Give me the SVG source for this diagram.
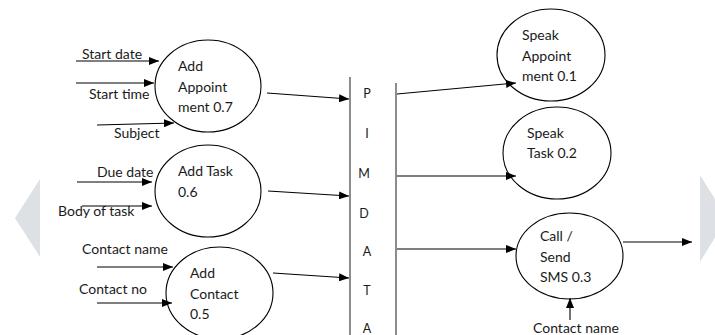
<svg xmlns="http://www.w3.org/2000/svg" width="715" height="335" viewBox="0 0 715 335">
  <defs>
    <marker id="arrow" markerUnits="userSpaceOnUse" markerWidth="10" markerHeight="8" refX="10" refY="4" orient="auto">
      <path d="M0,0 L10,4 L0,8 z" fill="#000"/>
    </marker>
    <style>
      .bubble { fill: #fff; stroke: #000; stroke-width: 1.1; }
      .flow { stroke: #000; stroke-width: 1.1; fill: none; marker-end: url(#arrow); }
      .store { stroke: #707070; stroke-width: 1.6; }
      text { font-family: Lato, "Open Sans", "Liberation Sans", sans-serif; font-size: 14px; fill: #1a1a1a; }
      .letter { font-size: 12.5px; text-anchor: middle; }
      .nav { fill: #dde1e6; }
    </style>
  </defs>

  <rect width="715" height="335" fill="#fff"/>

  <!-- page navigation chevrons -->
  <polygon class="nav" points="40,179 15,218 40,257"/>
  <polygon class="nav" points="700,175 727,218 700,262"/>

  <!-- data store: PIM DATA -->
  <g id="pim-data">
    <line class="store" x1="350" y1="77" x2="350" y2="335"/>
    <line class="store" x1="396" y1="83" x2="396" y2="335"/>
    <text class="letter" x="367" y="98">P</text>
    <text class="letter" x="367" y="138">I</text>
    <text class="letter" x="364" y="178">M</text>
    <text class="letter" x="364" y="218">D</text>
    <text class="letter" x="367" y="256">A</text>
    <text class="letter" x="367" y="295">T</text>
    <text class="letter" x="367" y="333">A</text>
  </g>

  <g id="add-appointment">
    <ellipse class="bubble" cx="208" cy="86" rx="53" ry="46"/>
    <text x="178" y="71">Add</text>
    <text x="178" y="92">Appoint</text>
    <text x="178" y="112">ment 0.7</text>
  </g>

  <g id="add-task">
    <ellipse class="bubble" cx="208" cy="191" rx="53" ry="46"/>
    <text x="178" y="176">Add Task</text>
    <text x="178" y="197">0.6</text>
  </g>

  <g id="add-contact">
    <ellipse class="bubble" cx="219.5" cy="293" rx="53.5" ry="46"/>
    <text x="190" y="278">Add</text>
    <text x="190" y="299">Contact</text>
    <text x="190" y="319">0.5</text>
  </g>

  <g id="speak-appointment">
    <ellipse class="bubble" cx="551" cy="55" rx="54" ry="46"/>
    <text x="522" y="40">Speak</text>
    <text x="522" y="61">Appoint</text>
    <text x="522" y="81">ment 0.1</text>
  </g>

  <g id="speak-task">
    <ellipse class="bubble" cx="557" cy="153" rx="54" ry="46"/>
    <text x="527" y="138">Speak</text>
    <text x="527" y="158">Task 0.2</text>
  </g>

  <g id="call-sms">
    <ellipse class="bubble" cx="569.5" cy="256" rx="53.5" ry="43"/>
    <text x="540" y="241">Call /</text>
    <text x="540" y="262">Send</text>
    <text x="540" y="282">SMS 0.3</text>
  </g>

  <!-- flow labels -->
  <g id="labels">
    <text x="82" y="59">Start date</text>
    <text x="89" y="99">Start time</text>
    <text x="114" y="138">Subject</text>
    <text x="97" y="177">Due date</text>
    <text x="58" y="216">Body of task</text>
    <text x="82" y="254">Contact name</text>
    <text x="79" y="294">Contact no</text>
    <text x="533" y="333">Contact name</text>
  </g>

  <g id="connectors">
    <line class="flow" x1="76" y1="61" x2="159" y2="61"/>
    <line class="flow" x1="76" y1="83" x2="154" y2="83"/>
    <line class="flow" x1="97" y1="125" x2="174" y2="123"/>
    <line class="flow" x1="267" y1="93" x2="349" y2="99"/>
    <line class="flow" x1="77" y1="182" x2="152" y2="182"/>
    <line class="flow" x1="82" y1="206" x2="152" y2="206"/>
    <line class="flow" x1="268" y1="191" x2="349" y2="196"/>
    <line class="flow" x1="97" y1="267" x2="173" y2="267"/>
    <line class="flow" x1="97" y1="303" x2="172" y2="303"/>
    <line class="flow" x1="273" y1="273" x2="349" y2="278"/>
    <line class="flow" x1="397" y1="94" x2="516" y2="83"/>
    <line class="flow" x1="397" y1="176" x2="516" y2="176"/>
    <line class="flow" x1="397" y1="249" x2="516" y2="249"/>
    <line class="flow" x1="623" y1="242" x2="692" y2="242"/>
    <line class="flow" x1="570" y1="320" x2="570" y2="298"/>
  </g>
</svg>
